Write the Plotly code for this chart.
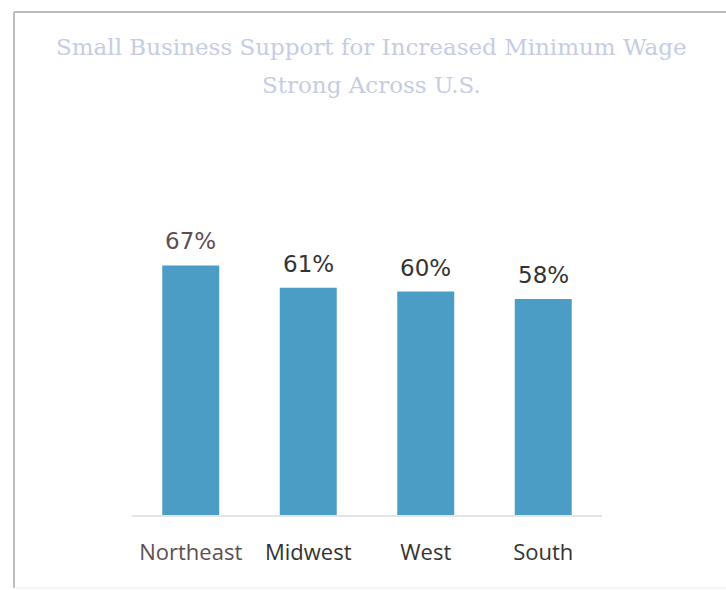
import plotly.graph_objects as go

# Regional support for raising the minimum wage
regions = ["Northeast", "Midwest", "West", "South"]
support_pct = [67, 61, 60, 58]
value_labels = ["67%", "61%", "60%", "58%"]
title_lines = ["Small Business Support for Increased Minimum Wage", "Strong Across U.S."]

W, H = 726, 590
ML, MR, MT, MB = 132, 124, 217, 75

BAR_COLOR = "#4c9dc6"
TEXT_DARK = "#333333"
TEXT_BROWN = "#5c4f52"
TITLE_COLOR = "#c6cce3"


def px_x(p):
    """Page pixel column -> paper x."""
    return (p - ML) / (W - ML - MR)


def px_y(p):
    """Page pixel row -> paper y."""
    return (H - MB - p) / (H - MT - MB)


fig = go.Figure(
    go.Bar(
        x=regions,
        y=support_pct,
        marker=dict(color=BAR_COLOR, line=dict(width=0)),
        width=0.485,
        hoverinfo="skip",
    )
)

# Value labels sitting above each bar
for i, (r, v, lab) in enumerate(zip(regions, support_pct, value_labels)):
    fig.add_annotation(
        x=r, y=v, xref="x", yref="y",
        text=lab, showarrow=False,
        yanchor="bottom", yshift=9,
        font=dict(family="'DejaVu Sans', sans-serif", size=23,
                  color=TEXT_BROWN if i == 0 else TEXT_DARK),
    )

# Two-line pale title
for line, ty in zip(title_lines, [47, 85]):
    fig.add_annotation(
        x=px_x(371), y=px_y(ty), xref="paper", yref="paper",
        text=line, showarrow=False, yanchor="middle", xanchor="center",
        font=dict(family="'DejaVu Serif', serif", size=23, color=TITLE_COLOR),
    )

tick_text = [f"<span style='color:{TEXT_BROWN}'>{regions[0]}</span>"] + regions[1:]

fig.update_layout(
    width=W, height=H,
    margin=dict(l=ML, r=MR, t=MT, b=MB),
    paper_bgcolor="white", plot_bgcolor="white",
    showlegend=False,
    xaxis=dict(
        tickmode="array", tickvals=regions, ticktext=tick_text,
        showline=True, linecolor="#e4e4e4", linewidth=2,
        showgrid=False, zeroline=False, ticks="",
        ticklabelstandoff=17,
        tickfont=dict(family="'Open Sans', sans-serif", size=22, color=TEXT_DARK),
        fixedrange=True,
    ),
    yaxis=dict(range=[0, 80], visible=False, showgrid=False, zeroline=False, fixedrange=True),
)

# Outer frame (left and top edges, faint bottom edge)
frame = "#bdbdbd"
fig.add_shape(type="line", xref="paper", yref="paper",
              x0=px_x(14), x1=px_x(14), y0=px_y(588), y1=px_y(12),
              line=dict(color=frame, width=2))
fig.add_shape(type="line", xref="paper", yref="paper",
              x0=px_x(14), x1=px_x(W), y0=px_y(12), y1=px_y(12),
              line=dict(color=frame, width=2))
fig.add_shape(type="line", xref="paper", yref="paper",
              x0=px_x(14), x1=px_x(W), y0=px_y(588), y1=px_y(588),
              line=dict(color="#ececec", width=1))

fig.write_html("out.html")
